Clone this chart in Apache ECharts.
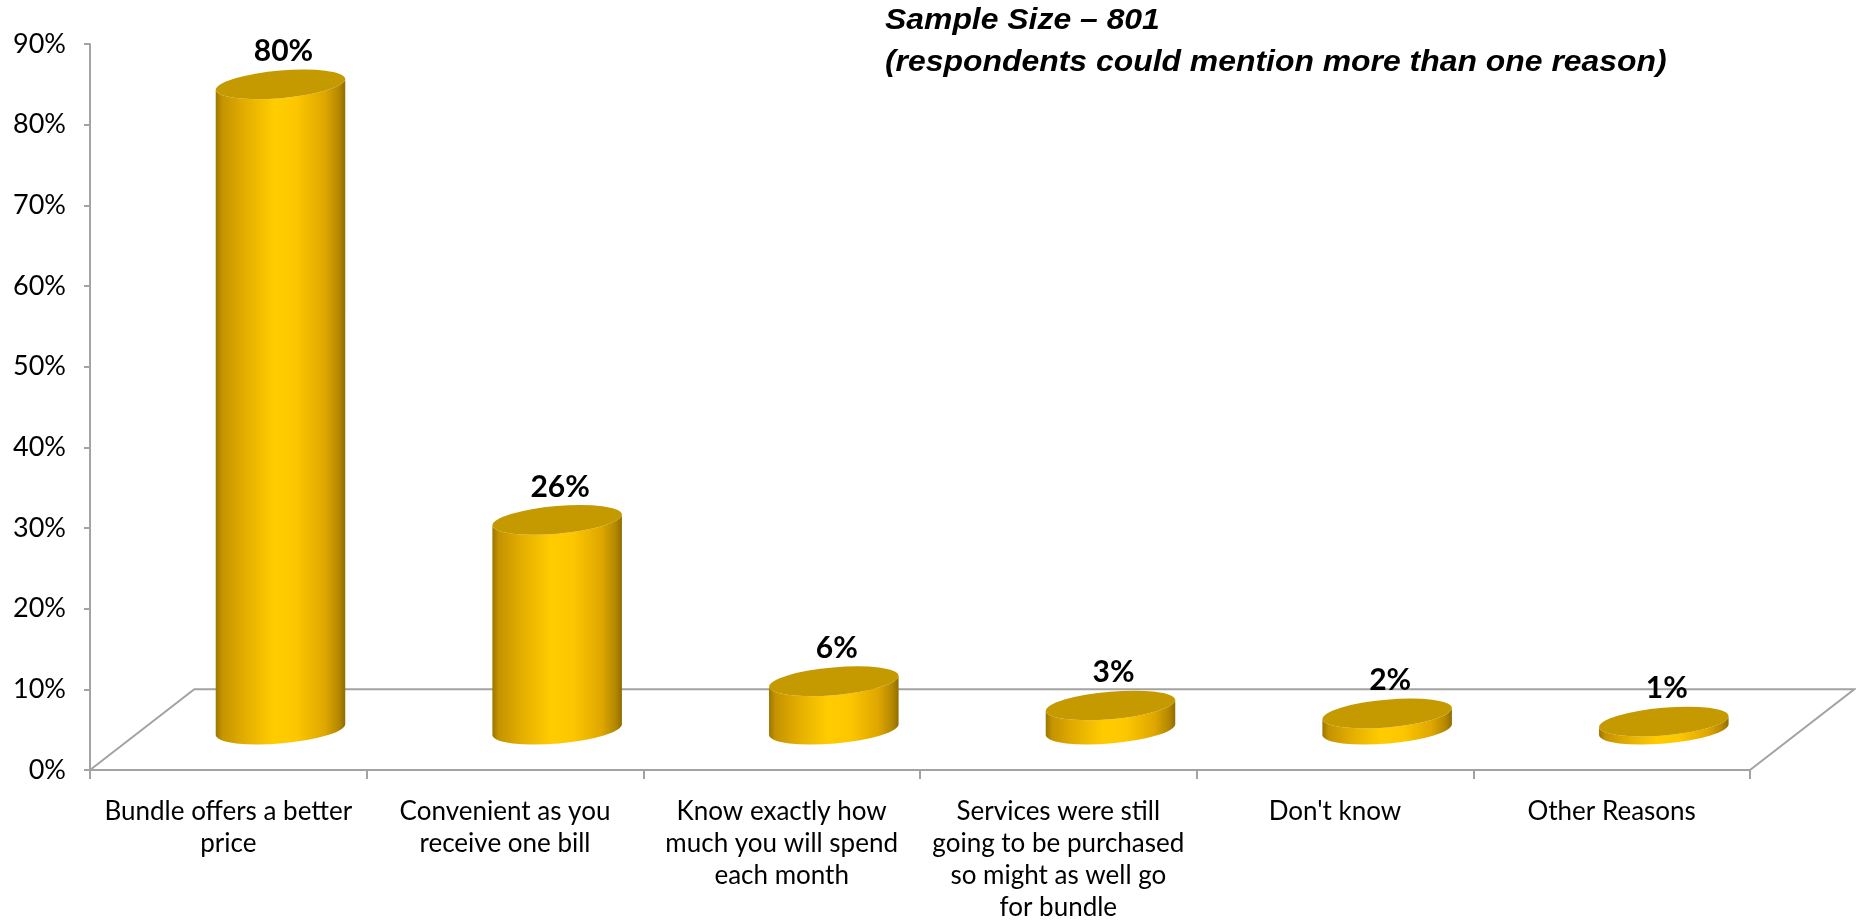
<!DOCTYPE html>
<html>
<head>
<meta charset="utf-8">
<title>Reasons for choosing a bundle</title>
<script src="https://cdn.jsdelivr.net/npm/echarts@6/dist/echarts.min.js"></script>
<style>
  html, body { margin: 0; padding: 0; background: #ffffff; }
  #chart { width: 1856px; height: 924px; }
</style>
</head>
<body>
<div id="chart"></div>
<script>
// ---- data ----
const categories = [
  'Bundle offers a better\nprice',
  'Convenient as you\nreceive one bill',
  'Know exactly how\nmuch you will spend\neach month',
  'Services were still\ngoing to be purchased\nso might as well go\nfor bundle',
  "Don't know",
  'Other Reasons'
];
const shares = [80, 26, 6, 3, 2, 1];
const yMin = 0;
const yMax = 90;
const yStep = 10;
const titleLines = [
  'Sample Size \u2013 801',
  '(respondents could mention more than one reason)'
];

// ---- pseudo-3D geometry (fractions of the category band) ----
const DEPTH_X = 0.377;      // horizontal run of the floor depth
const RADIUS_X = 0.235;     // cylinder half-width
const RADIUS_Y = 14;        // ellipse half-height in px
const TILT_DEG = -5;        // perspective tilt of the ellipses

const AXIS_GREY = '#a3a3a3';

const bodyGradient = {
  type: 'linear', x: 0, y: 0, x2: 1, y2: 0,
  colorStops: [
    { offset: 0.00, color: '#9a7400' },
    { offset: 0.05, color: '#c49300' },
    { offset: 0.22, color: '#e3ad00' },
    { offset: 0.45, color: '#ffcc00' },
    { offset: 0.62, color: '#fdc700' },
    { offset: 0.84, color: '#dfa700' },
    { offset: 0.95, color: '#b38700' },
    { offset: 1.00, color: '#8f6c00' }
  ]
};

function fmt(n) { return n.toFixed(2); }

// floor parallelogram behind the category axis
function renderFloor(params, api) {
  const cs = params.coordSys;
  const band = api.size([1, 0])[0];
  const dx = band * DEPTH_X;
  const dy = api.size([0, yStep])[1];
  const fy = cs.y + cs.height;
  return {
    type: 'polyline',
    shape: {
      points: [
        [cs.x, fy],
        [cs.x + dx, fy - dy],
        [cs.x + cs.width + dx, fy - dy],
        [cs.x + cs.width, fy]
      ]
    },
    style: { stroke: AXIS_GREY, lineWidth: 2, fill: null }
  };
}

// one cylinder standing in the middle of the floor depth
function renderCylinder(params, api) {
  const idx = api.value(0);
  const val = api.value(1);
  const base = api.coord([idx, 0]);
  const top = api.coord([idx, val]);
  const band = api.size([1, 0])[0];
  const dx = band * DEPTH_X;
  const dy = api.size([0, yStep])[1];

  const cx = base[0] + dx / 2;
  const by = base[1] - dy / 2;
  const ty = top[1] - dy / 2;
  const rx = band * RADIUS_X;
  const ry = RADIUS_Y;
  const phi = TILT_DEG * Math.PI / 180;
  const c = Math.cos(phi), s = Math.sin(phi);

  const Lt = [cx - rx * c, ty - rx * s], Rt = [cx + rx * c, ty + rx * s];
  const Lb = [cx - rx * c, by - rx * s], Rb = [cx + rx * c, by + rx * s];
  const arc = (sweep, p) => ' A ' + fmt(rx) + ' ' + fmt(ry) + ' ' + TILT_DEG + ' 0 ' + sweep + ' ' + fmt(p[0]) + ' ' + fmt(p[1]);

  const bodyPath = 'M ' + fmt(Lt[0]) + ' ' + fmt(Lt[1]) +
    ' L ' + fmt(Lb[0]) + ' ' + fmt(Lb[1]) +
    arc(0, Rb) +
    ' L ' + fmt(Rt[0]) + ' ' + fmt(Rt[1]) +
    arc(1, Lt) + ' Z';
  const capPath = 'M ' + fmt(Lt[0]) + ' ' + fmt(Lt[1]) +
    arc(1, Rt) + arc(1, Lt) + ' Z';

  return {
    type: 'group',
    children: [
      { type: 'path', shape: { pathData: bodyPath }, style: { fill: bodyGradient } },
      { type: 'path', shape: { pathData: capPath }, style: { fill: '#c49a00' } },
      {
        type: 'text',
        x: cx + 3,
        y: ty - 33,
        style: {
          text: val + '%',
          fill: '#000000',
          font: 'bold 30px Lato',
          align: 'center',
          verticalAlign: 'middle'
        }
      }
    ]
  };
}

const chart = echarts.init(document.getElementById('chart'), null, { renderer: 'canvas' });

chart.setOption({
  animation: false,
  backgroundColor: '#ffffff',
  grid: {
    left: 90, right: 106, top: 44, bottom: 154,
    containLabel: false,
    outerBoundsMode: 'none'
  },
  xAxis: {
    type: 'category',
    data: categories,
    boundaryGap: true,
    axisLine: { show: true, lineStyle: { color: AXIS_GREY, width: 2 } },
    axisTick: { show: true, length: 9, lineStyle: { color: AXIS_GREY, width: 2 } },
    axisLabel: {
      interval: 0,
      margin: 26,
      color: '#000000',
      fontFamily: 'Lato',
      fontSize: 26,
      lineHeight: 32,
      align: 'center'
    },
    splitLine: { show: false }
  },
  yAxis: {
    type: 'value',
    min: yMin,
    max: yMax,
    interval: yStep,
    axisLine: { show: true, lineStyle: { color: AXIS_GREY, width: 2 } },
    axisTick: { show: true, length: 6, lineStyle: { color: AXIS_GREY, width: 2 } },
    axisLabel: {
      formatter: '{value}%',
      margin: 24,
      color: '#000000',
      fontFamily: 'Lato',
      fontSize: 27
    },
    splitLine: { show: false }
  },
  graphic: titleLines.map((line, i) => ({
    type: 'text',
    x: 885,
    y: 21 + i * 42,
    scaleX: 1.1,
    style: {
      text: line,
      fill: '#000000',
      font: 'italic bold 29px "Liberation Sans", Arial, sans-serif',
      align: 'left',
      verticalAlign: 'middle'
    }
  })),
  series: [
    {
      type: 'custom',
      name: 'floor',
      z: 1,
      clip: false,
      silent: true,
      renderItem: renderFloor,
      data: [[0, 0]]
    },
    {
      type: 'custom',
      name: 'share',
      z: 3,
      clip: false,
      renderItem: renderCylinder,
      encode: { x: 0, y: 1 },
      data: shares.map((v, i) => [i, v])
    }
  ]
});
</script>
</body>
</html>
